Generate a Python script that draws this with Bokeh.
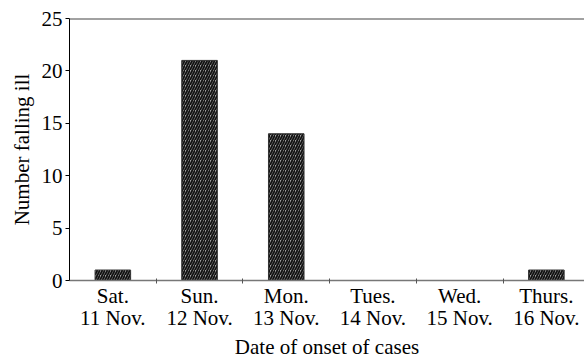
from bokeh.plotting import figure
from bokeh.models import FixedTicker, Span
from bokeh.embed import file_html
from bokeh.resources import INLINE

days = ["Sat.\n11 Nov.", "Sun.\n12 Nov.", "Mon.\n13 Nov.", "Tues.\n14 Nov.", "Wed.\n15 Nov.", "Thurs.\n16 Nov."]
cases = [1, 21, 14, 0, 0, 1]
y_ticks = [0, 5, 10, 15, 20, 25]

centers = [i + 0.5 for i in range(len(days))]
bounds = [i for i in range(1, len(days))]

FONT = "Liberation Serif"
FS = "21px"

p = figure(width=584, height=362, output_backend="svg", toolbar_location=None,
           x_range=(0, 5.94), y_range=(0, 25),
           min_border_left=69, min_border_right=0, min_border_top=18, min_border_bottom=81)
p.outline_line_color = None
p.xgrid.visible = False
p.ygrid.visible = False
p.background_fill_color = "white"

p.vbar(x=centers, top=cases, width=0.41, bottom=0,
       fill_color="#a0a0a0", line_color="#333333", line_width=1,
       hatch_pattern="/", hatch_color="#111111", hatch_scale=5, hatch_weight=1.8)

p.add_layout(Span(location=25, dimension="width", line_color="#444444", line_width=2))

p.xaxis.ticker = FixedTicker(ticks=centers, minor_ticks=bounds)
p.xaxis.major_label_overrides = {c: d for c, d in zip(centers, days)}
p.xaxis.major_tick_line_color = None
p.xaxis.major_tick_out = 0
p.xaxis.major_tick_in = 0
p.xaxis.minor_tick_out = 3
p.xaxis.minor_tick_in = 2
p.xaxis.minor_tick_line_color = "#555555"
p.xaxis.axis_line_color = "#777777"
p.xaxis.axis_line_width = 1.5
p.xaxis.major_label_standoff = 0
p.xaxis.major_label_text_font = FONT
p.xaxis.major_label_text_font_size = FS
p.xaxis.major_label_text_color = "black"
p.xaxis.major_label_text_line_height = 0.95
p.xaxis.axis_label = "Date of onset of cases"
p.xaxis.axis_label_text_font = FONT
p.xaxis.axis_label_text_font_size = FS
p.xaxis.axis_label_text_font_style = "normal"
p.xaxis.axis_label_text_color = "black"
p.xaxis.axis_label_standoff = 2

p.yaxis.ticker = FixedTicker(ticks=y_ticks, minor_ticks=[])
p.yaxis.major_tick_out = 4
p.yaxis.major_tick_in = 0
p.yaxis.major_tick_line_color = "black"
p.yaxis.axis_line_color = "black"
p.yaxis.major_label_standoff = 3
p.yaxis.major_label_text_font = FONT
p.yaxis.major_label_text_font_size = FS
p.yaxis.major_label_text_color = "black"
p.yaxis.axis_label = "Number falling ill"
p.yaxis.axis_label_text_font = FONT
p.yaxis.axis_label_text_font_size = FS
p.yaxis.axis_label_text_font_style = "normal"
p.yaxis.axis_label_text_color = "black"
p.yaxis.axis_label_standoff = 5

open("out.html", "w").write(file_html(p, INLINE))
